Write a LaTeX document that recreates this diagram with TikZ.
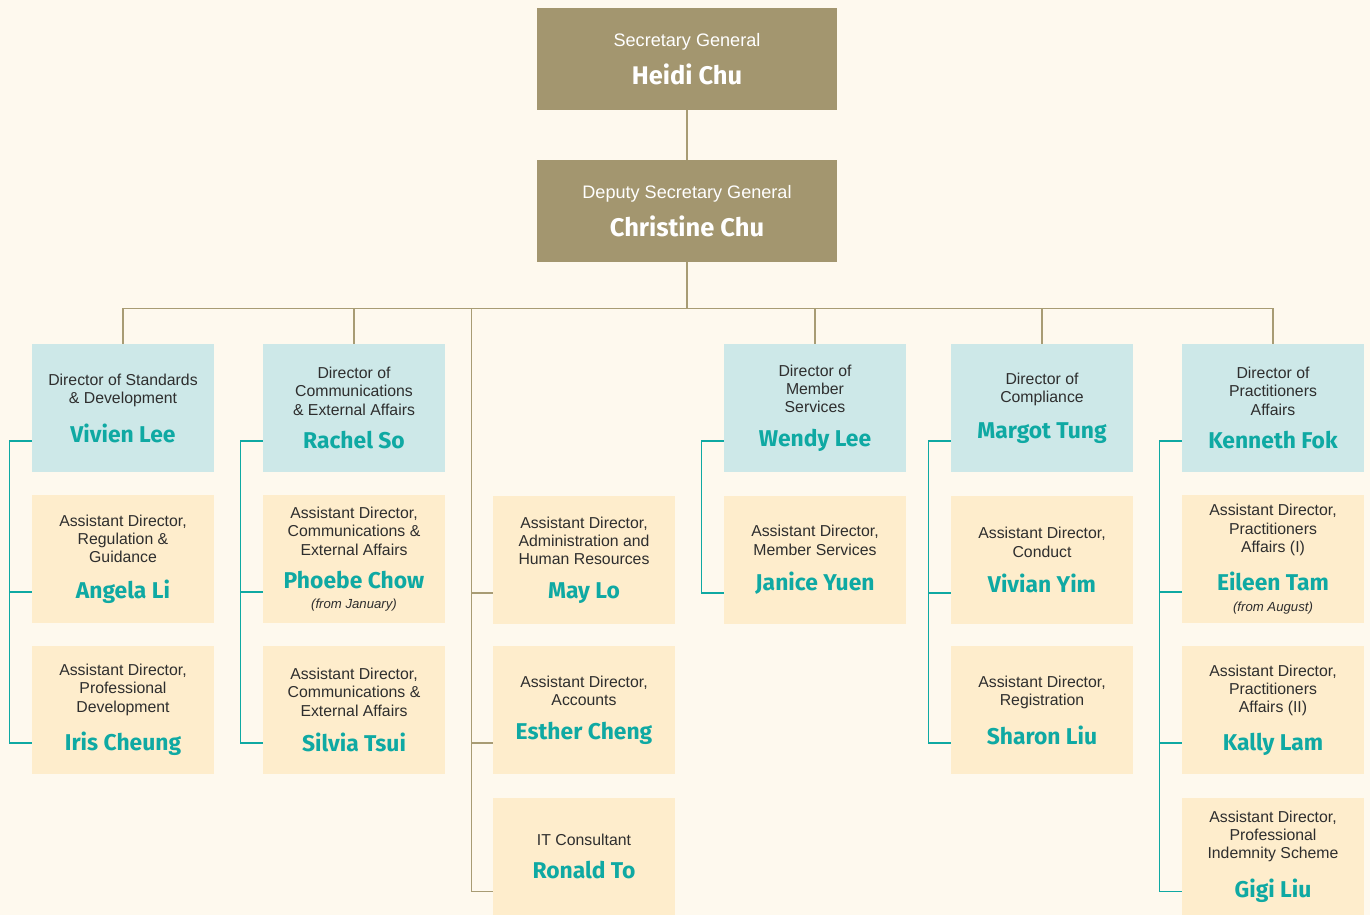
\documentclass[tikz,border=0pt]{standalone}
\usepackage{fontspec}
\setmainfont{Liberation Sans}
\newfontfamily\namefont{Fira Sans}
\usetikzlibrary{calc,positioning}

\definecolor{bgcream}{HTML}{FEF9EE}
\definecolor{goldbox}{HTML}{A3966F}
\definecolor{bluebox}{HTML}{CDE8E8}
\definecolor{sandbox}{HTML}{FEEDCC}
\definecolor{tealname}{HTML}{0FA9A3}
\definecolor{tanline}{HTML}{A89C74}
\definecolor{darktext}{HTML}{2E2E2E}

\def\who#1{{\namefont\bfseries\fontsize{13}{15}\selectfont\color{tealname}#1}}
\def\boss#1{{\namefont\bfseries\fontsize{14.5}{17}\selectfont #1}}
\def\note#1{{\itshape\fontsize{7.5}{9}\selectfont #1}}

\tikzset{
  topbox/.style={fill=goldbox, text=white, minimum width=6cm, minimum height=2.04cm,
    inner sep=0pt, align=center, font=\fontsize{10.3}{12}\selectfont},
  dirbox/.style={fill=bluebox, text=darktext, minimum width=3.64cm, minimum height=2.56cm,
    inner sep=0pt, align=center, font=\fontsize{9}{10.5}\selectfont},
  asbox/.style={dirbox, fill=sandbox},
  lastbox/.style={asbox, minimum height=2.34cm},
  tanwire/.style={draw=tanline, line width=0.85pt},
  tealwire/.style={draw=tealname, line width=0.85pt}
}

\begin{document}
\begin{tikzpicture}[x=0.02cm,y=-0.02cm]
		%%%%% START %%%%%
		
		\fill[bgcream] (0,0) rectangle (1370,915);
		\useasboundingbox (0,0) rectangle (1370,915);
		
		\node[topbox] (sg) at (687,59) {Secretary General\\[7pt]\boss{Heidi Chu}};
		\node[topbox] (dsg) at (687,211) {Deputy Secretary General\\[7pt]\boss{Christine Chu}};
		
		% directors
		\node[dirbox] (d1) at (123,408) {Director of Standards\\\& Development\\[8.5pt]\who{Vivien Lee}};
		\node[dirbox] (d2) at (354,408) {Director of\\Communications\\\& External Affairs\\[8.5pt]\who{Rachel So}};
		\node[dirbox] (d4) at (815,408) {Director of\\Member\\Services\\[8.5pt]\who{Wendy Lee}};
		\node[dirbox] (d5) at (1042,408) {Director of\\Compliance\\[8.5pt]\who{Margot Tung}};
		\node[dirbox] (d6) at (1273,408) {Director of\\Practitioners\\Affairs\\[8.5pt]\who{Kenneth Fok}};
		
		% assistant directors
		\node[asbox] (a11) at (123,559) {Assistant Director,\\Regulation \&\\Guidance\\[8.5pt]\who{Angela Li}};
		\node[asbox] (a12) at (123,710) {Assistant Director,\\Professional\\Development\\[8.5pt]\who{Iris Cheung}};
		\node[asbox] (a21) at (354,559) {Assistant Director,\\Communications \&\\External Affairs\\[8.5pt]\who{Phoebe Chow}\\[1pt]\note{(from January)}};
		\node[asbox] (a22) at (354,710) {Assistant Director,\\Communications \&\\External Affairs\\[8.5pt]\who{Silvia Tsui}};
		\node[asbox] (m1) at (584,560) {Assistant Director,\\Administration and\\Human Resources\\[8.5pt]\who{May Lo}};
		\node[asbox] (m2) at (584,710) {Assistant Director,\\Accounts\\[8.5pt]\who{Esther Cheng}};
		\node[lastbox] (m3) at (584,856.5) {IT Consultant\\[8.5pt]\who{Ronald To}};
		\node[asbox] (a41) at (815,560) {Assistant Director,\\Member Services\\[8.5pt]\who{Janice Yuen}};
		\node[asbox] (a51) at (1042,560) {Assistant Director,\\Conduct\\[8.5pt]\who{Vivian Yim}};
		\node[asbox] (a52) at (1042,710) {Assistant Director,\\Registration\\[8.5pt]\who{Sharon Liu}};
		\node[asbox] (a61) at (1273,559) {Assistant Director,\\Practitioners\\Affairs (I)\\[8.5pt]\who{Eileen Tam}\\[1pt]\note{(from August)}};
		\node[asbox] (a62) at (1273,710) {Assistant Director,\\Practitioners\\Affairs (II)\\[8.5pt]\who{Kally Lam}};
		\node[lastbox] (a63) at (1273,856.5) {Assistant Director,\\Professional\\Indemnity Scheme\\[8.5pt]\who{Gigi Liu}};
		
		% tan lines
		\draw[tanwire] (sg.south) -- (dsg.north);
		\draw[tanwire] (dsg.south) -- ++(0,46) coordinate (bus);
		\draw[tanwire] (d1.north |- bus) -- (d6.north |- bus);
		\foreach \d in {d1,d2,d4,d5,d6}
			\draw[tanwire] (\d.north |- bus) -- (\d.north);
		\path (bus -| m1.west) ++(-21,0) coordinate (adm);
		\foreach \m/\o in {m1/33,m2/33,m3/35}
			\draw[tanwire] (adm) |- ($(\m.west)+(0,\o)$);
		
		% teal lines
		\foreach \d/\a/\o in {d1/a11/33,d1/a12/33,d2/a21/33,d2/a22/33,d4/a41/33,
				d5/a51/33,d5/a52/33,d6/a61/33,d6/a62/33,d6/a63/35}
			\draw[tealwire] ($(\d.west)+(0,33)$) -- ++(-22,0) |- ($(\a.west)+(0,\o)$);
		
		%%%%% END %%%%%
\end{tikzpicture}
\end{document}
